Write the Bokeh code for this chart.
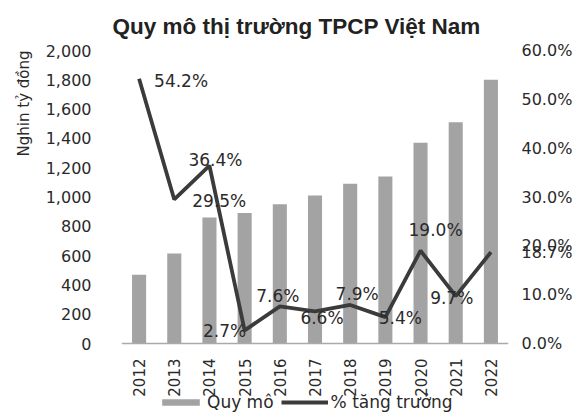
import math
from bokeh.plotting import figure
from bokeh.models import (ColumnDataSource, Range1d, LinearAxis, FixedTicker,
                          NumeralTickFormatter, PrintfTickFormatter, LabelSet,
                          Legend, LegendItem, Title, Span)
from bokeh.core.properties import value
from bokeh.embed import file_html
from bokeh.resources import INLINE

years = ["2012", "2013", "2014", "2015", "2016", "2017", "2018", "2019", "2020", "2021", "2022"]
quy_mo = [470, 615, 860, 890, 950, 1010, 1090, 1140, 1370, 1510, 1800]
tang_truong = [54.2, 29.5, 36.4, 2.7, 7.6, 6.6, 7.9, 5.4, 19.0, 9.7, 18.7]
left_ticks = [0, 200, 400, 600, 800, 1000, 1200, 1400, 1600, 1800, 2000]
right_ticks = [0, 10, 20, 30, 40, 50, 60]

# label placement (screen px, positive = right / up)
lab_dx = [42, 45, 6, -20, -2, 7, 7, 15, 15, -4, 0]
lab_dy = [-2, -2, 6, -1, 10, -7, 11, -1, 21, -2, 0]

# the last label sits beside the right axis (outside the plot frame),
# so it is drawn as a tick label of that axis
labels_txt = ["%.1f%%" % v for v in tang_truong[:-1]] + [""]

src = ColumnDataSource(dict(
    year=years, qm=quy_mo, g=tang_truong, lab=labels_txt,
    dx=lab_dx, dy=lab_dy, zero=[0] * len(years),
))

FONT = "DejaVu Sans"
TXT = "#2a2a2a"

# plot area: value axis occupies the upper 293 px; the lower 70 px hold the
# category labels and the legend
AXIS_PX, EXTRA_PX = 293, 70
LEFT_MAX, RIGHT_MAX = 2000, 60

p = figure(x_range=years,
           y_range=Range1d(-LEFT_MAX * EXTRA_PX / AXIS_PX, LEFT_MAX),
           frame_width=387, frame_height=AXIS_PX + EXTRA_PX,
           output_backend="svg", toolbar_location=None,
           min_border_left=121, min_border_right=63, min_border_top=50,
           min_border_bottom=0)
p.extra_y_ranges = {"pct": Range1d(-RIGHT_MAX * EXTRA_PX / AXIS_PX, RIGHT_MAX)}

p.title.text = "Quy mô thị trường TPCP Việt Nam"
p.title.text_font = "Liberation Sans"
p.title.text_font_size = "22.5px"
p.title.text_font_style = "bold"
p.title.text_color = "#222222"
p.title.align = "left"
p.title.offset = -9
p.title.standoff = 23

p.xgrid.visible = False
p.ygrid.visible = False
p.outline_line_color = None
p.xaxis.visible = False

bars = p.vbar(x="year", top="qm", width=0.4, source=src,
              fill_color="#a3a3a3", line_color=None)
p.add_layout(Span(location=0, dimension="width", line_color="#aaaaaa",
                  line_width=1.5))
line = p.line(x="year", y="g", source=src, y_range_name="pct",
              line_color="#3b3b3b", line_width=3.8)

labels = LabelSet(x="year", y="g", text="lab", source=src, y_range_name="pct",
                  x_offset="dx", y_offset="dy", text_align="center",
                  text_baseline="middle", text_font=value(FONT),
                  text_font_size=value("17px"), text_color=TXT)
p.add_layout(labels)

# category labels (years), rotated, under the baseline
year_labels = LabelSet(x="year", y="zero", text="year", source=src,
                       angle=math.pi / 2, y_offset=-15, text_align="right",
                       text_baseline="middle", text_font=value(FONT),
                       text_font_size=value("15px"), text_color=TXT)
p.add_layout(year_labels)

# left axis
ya = p.yaxis[0]
ya.ticker = FixedTicker(ticks=left_ticks)
ya.formatter = NumeralTickFormatter(format="0,0")
ya.axis_line_color = None
ya.major_tick_line_color = None
ya.minor_tick_line_color = None
ya.major_label_text_font = FONT
ya.major_label_text_font_size = "16px"
ya.major_label_text_color = TXT
ya.major_label_standoff = 24

ylab = Title(text="Nghin tỷ đồng", align="right", text_font=FONT,
             text_font_size="15px", text_font_style="normal",
             text_color=TXT, standoff=20)
p.add_layout(ylab, "left")

# right axis
ra = LinearAxis(y_range_name="pct",
                ticker=FixedTicker(ticks=right_ticks + [tang_truong[-1]]),
                formatter=PrintfTickFormatter(format="%.1f%%"))
ra.axis_line_color = None
ra.major_tick_line_color = None
ra.minor_tick_line_color = None
ra.major_label_text_font = FONT
ra.major_label_text_font_size = "16px"
ra.major_label_text_color = TXT
ra.major_label_standoff = 7
p.add_layout(ra, "right")

legend = Legend(items=[LegendItem(label="Quy mô", renderers=[bars]),
                       LegendItem(label="% tăng trưởng", renderers=[line])],
                orientation="horizontal", location=(36, 1),
                label_text_font=FONT, label_text_font_size="17px",
                label_text_color=TXT, glyph_width=47, glyph_height=8,
                label_height=20, label_standoff=3, spacing=7, padding=0,
                margin=0, border_line_color=None, background_fill_alpha=0)
p.add_layout(legend)

open("out.html", "w").write(file_html(p, INLINE))
